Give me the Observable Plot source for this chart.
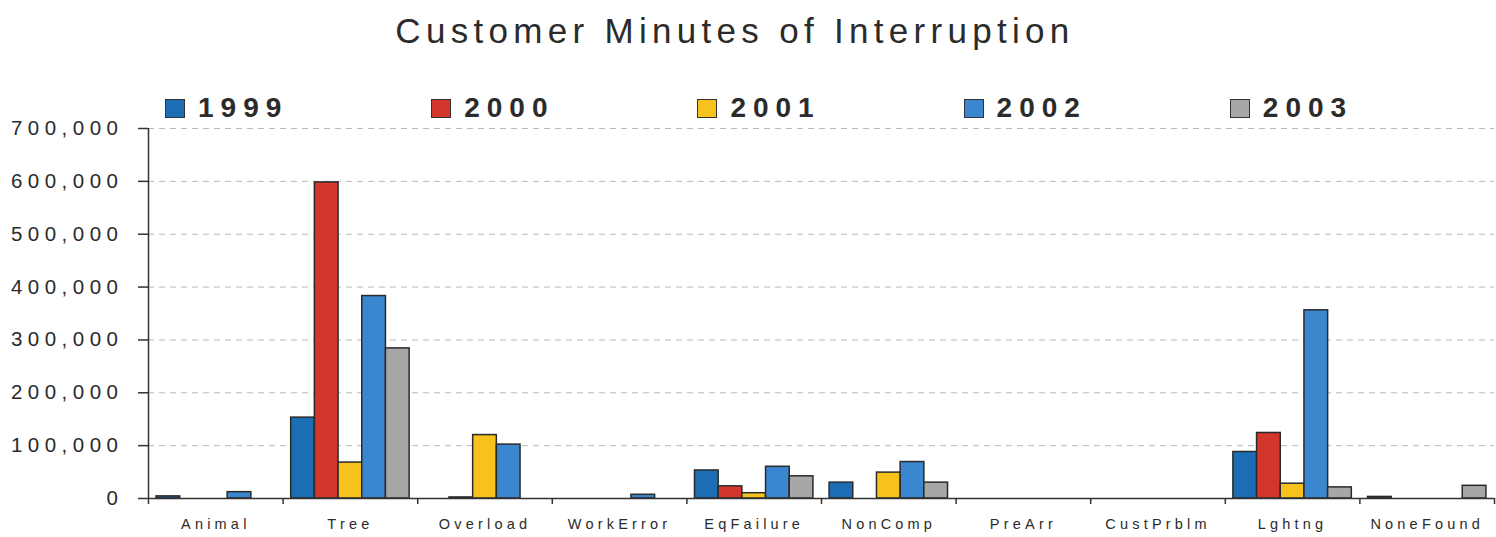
<!DOCTYPE html>
<html>
<head>
<meta charset="utf-8">
<script src="https://cdn.jsdelivr.net/npm/d3@7"></script>
<script src="https://cdn.jsdelivr.net/npm/@observablehq/plot@0.6"></script>
<style>
  html, body { margin: 0; padding: 0; background: #fff; }
  body { width: 1496px; height: 537px; overflow: hidden; font-family: "Liberation Sans", Arial, sans-serif; color: #2b2b2b; }
  #title { height: 95px; box-sizing: border-box; padding-top: 13px; padding-right: 26px; text-align: center;
           font-size: 35px; line-height: 35px; letter-spacing: 5.3px; color: #2b2b2b; }
  #legend { height: 23px; box-sizing: border-box; padding-top: 2px; padding-left: 165px; display: flex; }
  .item { width: 280px; display: flex; align-items: center; height: 22px; }
  .swatch { width: 18px; height: 17px; border: 1.5px solid #333; margin-right: 13px; flex: none; }
  .item span { font-size: 28px; font-weight: bold; line-height: 22px; letter-spacing: 7px; color: #2b2b2b; }
  #chart g[aria-label="y-axis tick label"] { letter-spacing: 5.5px; }
  #chart g[aria-label="x-axis tick label"] { letter-spacing: 4.2px; }
</style>
</head>
<body>
<div id="title">Customer Minutes of Interruption</div>
<div id="legend"></div>
<div id="chart"></div>
<script>
// Outage causes along the x axis
const categories = ["Animal", "Tree", "Overload", "WorkError", "EqFailure", "NonComp", "PreArr", "CustPrblm", "Lghtng", "NoneFound"];
const years = ["1999", "2000", "2001", "2002", "2003"];

// Customer minutes of interruption per cause, one array per year
const v1999 = [4000, 153000, 0, 0, 53000, 30000, 0, 0, 88000, 3000];
const v2000 = [0, 598000, 2000, 0, 23000, 0, 0, 0, 124000, 0];
const v2001 = [0, 68000, 120000, 0, 10000, 49000, 0, 0, 28000, 0];
const v2002 = [12000, 383000, 102000, 7000, 60000, 69000, 0, 0, 356000, 0];
const v2003 = [0, 284000, 0, 0, 42000, 30000, 0, 0, 21000, 24000];

const yTicks = [0, 100000, 200000, 300000, 400000, 500000, 600000, 700000];
const colors = ["#1c6eb4", "#d3362a", "#f8c21c", "#3b87cf", "#a7a7a7"];

const series = [v1999, v2000, v2001, v2002, v2003];

// Each cause occupies one unit on a linear x axis; the five yearly bars share it
const groupInset = 0.06;
const barWidth = (1 - 2 * groupInset) / years.length;
const rows = categories.flatMap((category, i) =>
  years.map((year, j) => ({
    category, year,
    x1: i + groupInset + j * barWidth,
    x2: i + groupInset + (j + 1) * barWidth,
    value: series[j][i]
  }))
);

// Legend
const legend = document.getElementById("legend");
years.forEach((y, j) => {
  const item = document.createElement("div");
  item.className = "item";
  const sw = document.createElement("div");
  sw.className = "swatch";
  sw.style.background = colors[j];
  const label = document.createElement("span");
  label.textContent = y;
  item.append(sw, label);
  legend.append(item);
});

const chart = Plot.plot({
  width: 1496,
  height: 419,
  marginLeft: 148,
  marginRight: 2,
  marginTop: 10,
  marginBottom: 39,
  style: { fontFamily: "Liberation Sans, Arial, sans-serif", color: "#2b2b2b", background: "white", overflow: "visible" },
  x: { domain: [0, categories.length], label: null },
  y: { domain: [0, 700000], label: null },
  color: { domain: years, range: colors },
  marks: [
    Plot.gridY(yTicks.slice(1), { stroke: "#b8b8b8", strokeOpacity: 1, strokeDasharray: "6,5", strokeWidth: 1 }),
    Plot.rectY(rows, { x1: "x1", x2: "x2", y: "value", fill: "year", stroke: "#2a2a2a", strokeWidth: 1.5 }),
    Plot.ruleX([0], { y1: 0, y2: 700000, stroke: "#333", strokeWidth: 1.5 }),
    Plot.ruleY([0], { stroke: "#333", strokeWidth: 1.5 }),
    Plot.axisY({ ticks: yTicks, tickSize: 10, tickPadding: 15, tickFormat: d3.format(","), fontSize: 20.5, label: null, stroke: "#333", strokeWidth: 1.5 }),
    // boundary ticks between causes
    Plot.axisX({ ticks: d3.range(0, categories.length + 1), tickSize: 6, tickFormat: () => "", label: null, stroke: "#333", strokeWidth: 1.5 }),
    // cause names centred in each group
    Plot.axisX({ ticks: categories.map((c, i) => i + 0.5), tickSize: 0, tickPadding: 20, tickFormat: (d) => categories[Math.floor(d)], fontSize: 14.5, fontWeight: 500, label: null })
  ]
});
document.getElementById("chart").append(chart);
</script>
</body>
</html>
